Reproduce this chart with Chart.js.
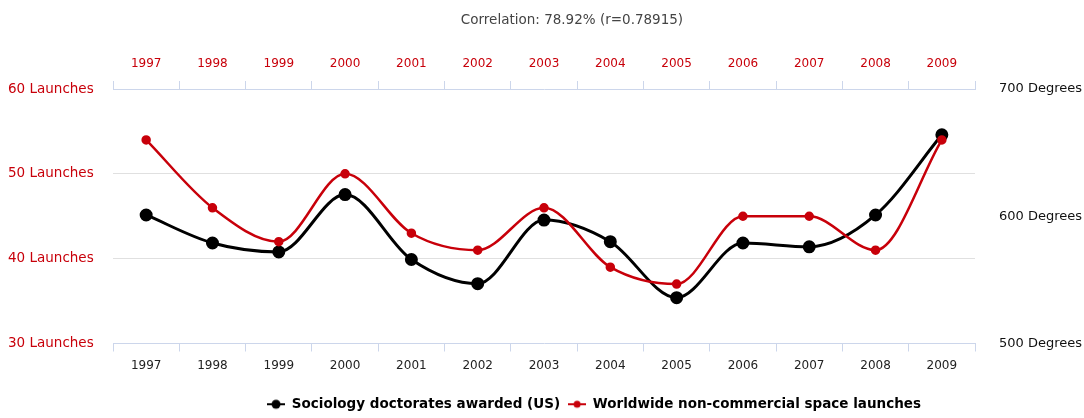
<!DOCTYPE html>
<html>
<head>
<meta charset="utf-8">
<script src="https://cdn.jsdelivr.net/npm/chart.js@4"></script>
<style>
html,body{margin:0;padding:0;background:#fff;}
#wrap{width:1084px;height:418px;}
</style>
</head>
<body>
<div id="wrap"><canvas id="c" width="1084" height="418"></canvas></div>
<script>
const years = ['1997','1998','1999','2000','2001','2002','2003','2004','2005','2006','2007','2008','2009'];
const sociologyDoctorates = [601, 579, 572, 617, 566, 547, 597, 580, 536, 579, 576, 601, 664];
const spaceLaunches = [54, 46, 42, 50, 43, 41, 46, 39, 37, 45, 45, 41, 54];
const titleText = 'Correlation: 78.92% (r=0.78915)';
const seriesNames = ['Sociology doctorates awarded (US)', 'Worldwide non-commercial space launches'];

const RED = '#c8000a';
const BLACK = '#000000';
const FONT = '"DejaVu Sans", sans-serif';

function legendSymbol(color, r) {
  const cv = document.createElement('canvas');
  cv.width = 18; cv.height = 12;
  const g = cv.getContext('2d');
  g.strokeStyle = color; g.lineWidth = 2;
  g.beginPath(); g.moveTo(0, 6); g.lineTo(18, 6); g.stroke();
  g.fillStyle = color;
  g.beginPath(); g.arc(9, 6, r, 0, Math.PI * 2); g.fill();
  return cv;
}
const symbols = [legendSymbol(BLACK, 4.5), legendSymbol(RED, 3.5)];

const shiftBoxes = {
  id: 'shiftBoxes',
  afterLayout(chart) {
    const t = chart.titleBlock;
    if (t) { t.left += 26; t.right += 26; }
    const l = chart.legend;
    if (l) { l.left += 48; l.right += 48; l.top += 3; l.bottom += 3; }
  }
};

new Chart(document.getElementById('c'), {
  type: 'line',
  plugins: [shiftBoxes],
  data: {
    labels: years,
    datasets: [
      {
        label: seriesNames[0],
        data: sociologyDoctorates,
        yAxisID: 'y1', xAxisID: 'x',
        borderColor: BLACK, backgroundColor: BLACK,
        borderWidth: 3, pointRadius: 5, pointHoverRadius: 5,
        cubicInterpolationMode: 'monotone', order: 1
      },
      {
        label: seriesNames[1],
        data: spaceLaunches,
        yAxisID: 'y', xAxisID: 'x',
        borderColor: RED, backgroundColor: RED,
        borderWidth: 2.5, pointRadius: 3.5, pointHoverRadius: 3.5,
        cubicInterpolationMode: 'monotone', order: 0
      }
    ]
  },
  options: {
    responsive: false,
    animation: false,
    layout: { padding: { left: 8, right: 0, top: 0, bottom: 0 } },
    plugins: {
      title: {
        display: true, text: titleText, color: '#444444',
        font: { family: FONT, size: 13.5, weight: 'normal' },
        padding: { top: 12, bottom: 0 }
      },
      legend: {
        position: 'bottom',
        labels: {
          usePointStyle: true,
          pointStyleWidth: 18,
          color: '#000',
          font: { family: FONT, size: 13.5, weight: 'bold' },
          padding: 8,
          sort: (a, b) => a.datasetIndex - b.datasetIndex,
          generateLabels: (chart) => {
            const items = Chart.defaults.plugins.legend.labels.generateLabels(chart);
            items.forEach(it => { it.pointStyle = symbols[it.datasetIndex]; it.lineWidth = 0; });
            return items;
          }
        }
      },
      tooltip: { enabled: false }
    },
    scales: {
      x: {
        type: 'category', position: 'bottom', offset: true,
        grid: { offset: true, drawOnChartArea: false, drawTicks: true, tickLength: 8, color: '#ccd6eb' },
        border: { display: true, color: '#ccd6eb' },
        ticks: { color: '#222', font: { family: FONT, size: 12 }, padding: 7, maxRotation: 0 },
        afterFit: (s) => { s.height = 43; }
      },
      x2: {
        type: 'category', position: 'top', offset: true, labels: years,
        grid: { offset: true, drawOnChartArea: false, drawTicks: true, tickLength: 8, color: '#ccd6eb' },
        border: { display: true, color: '#ccd6eb' },
        ticks: { color: RED, font: { family: FONT, size: 12 }, padding: 10, maxRotation: 0 },
        afterFit: (s) => { s.height = 60.8; }
      },
      y: {
        position: 'left', min: 30, max: 60,
        ticks: { stepSize: 10, color: RED, font: { family: FONT, size: 13.5 }, crossAlign: 'far', padding: 0,
          callback: (v) => v + ' Launches' },
        grid: { drawTicks: false, color: (c) => (c.tick && (c.tick.value === 60 || c.tick.value === 30)) ? 'rgba(0,0,0,0)' : '#e0e0e0' },
        border: { display: false },
        afterFit: (s) => { s.width = 105; }
      },
      y1: {
        position: 'right', min: 500, max: 700,
        ticks: { stepSize: 100, color: '#111', font: { family: FONT, size: 13 }, padding: 24,
          callback: (v) => v + ' Degrees' },
        grid: { drawOnChartArea: false, drawTicks: false },
        border: { display: false },
        afterFit: (s) => { s.width = 109; }
      }
    }
  }
});
</script>
</body>
</html>
